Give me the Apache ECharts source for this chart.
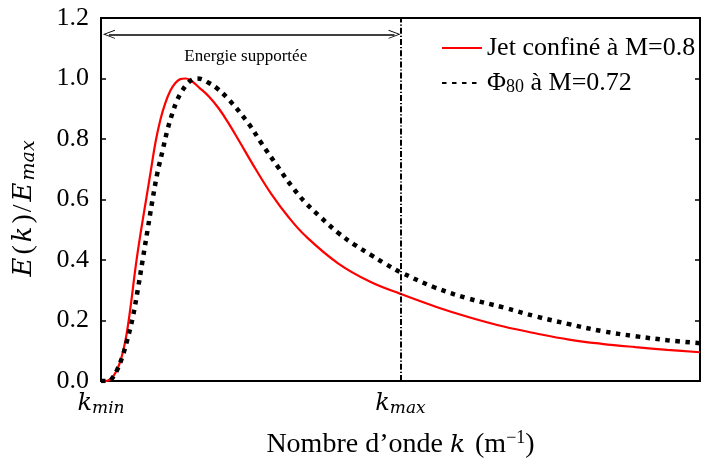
<!DOCTYPE html>
<html>
<head>
<meta charset="utf-8">
<script src="https://cdn.jsdelivr.net/npm/echarts@6/dist/echarts.min.js"></script>
<style>
  html, body { margin: 0; padding: 0; background: #fff; }
  #chart { width: 703px; height: 464px; }
</style>
</head>
<body>
<div id="chart"></div>
<script>
// wavenumber axis in arbitrary units: k_min = 0, k_max = 302
const kMin = 0
const kMax = 302
const kEnd = 604

// jet confiné à M=0.8
const kJet = [0, 5, 10, 15, 20, 25, 30, 35, 40, 45, 50, 55, 60, 65, 70, 75, 80, 85, 90, 99,
  109, 119, 129, 139, 156, 172, 189, 206, 239, 272, 302, 339, 372, 406, 439, 472, 505, 539, 571, 604]
const eJet = [0, 0, 0.007, 0.03, 0.07, 0.14, 0.25, 0.38, 0.49, 0.59, 0.69, 0.79, 0.865, 0.92, 0.96, 0.985, 0.998, 1.0, 0.995, 0.97,
  0.94, 0.9, 0.85, 0.795, 0.7, 0.617, 0.542, 0.48, 0.389, 0.327, 0.288, 0.244, 0.21, 0.18, 0.157, 0.137, 0.123, 0.112, 0.103, 0.095]

// Phi_80 à M=0.72
const kPhi = [0, 7, 11, 16, 21, 26, 32, 37, 42, 47, 52, 57, 62, 67, 72, 77, 82, 87, 92, 97,
  103, 109, 116, 129, 149, 162, 179, 192, 206, 222, 239, 255, 272, 287, 302, 336, 369, 406, 439, 472, 505, 539, 571, 604]
const ePhi = [0, 0, 0.008, 0.035, 0.075, 0.13, 0.21, 0.3, 0.4, 0.5, 0.6, 0.69, 0.76, 0.83, 0.885, 0.93, 0.96, 0.983, 0.996, 1.0,
  0.996, 0.985, 0.97, 0.93, 0.85, 0.785, 0.705, 0.645, 0.59, 0.54, 0.49, 0.452, 0.417, 0.387, 0.36, 0.31, 0.274, 0.243, 0.213, 0.188, 0.165, 0.148, 0.135, 0.125]

const yTicks = [0, 0.2, 0.4, 0.6, 0.8, 1.0, 1.2]
const arrowY = 1.146

const serif = '"Liberation Serif", "DejaVu Serif", serif'
const mathFont = '"DejaVu Serif", serif'

const chart = echarts.init(document.getElementById('chart'))

const zip = (xs, ys) => xs.map((x, i) => [x, ys[i]])

const chevron = 'path://M0,10 L5,0 L10,10 L9,10 L5,2 L1,10 Z'

const option = {
  animation: false,
  backgroundColor: '#fff',
  grid: {
    left: 101,
    width: 604,
    top: 18,
    bottom: 83,
    show: true,
    borderColor: '#000',
    borderWidth: 2
  },
  legend: {
    orient: 'vertical',
    left: 436,
    top: 30,
    itemWidth: 40,
    itemHeight: 14,
    itemGap: 9,
    itemStyle: { opacity: 0 },
    textStyle: {
      fontFamily: serif,
      fontSize: 26,
      color: '#000',
      rich: {
        n: { fontFamily: serif, fontSize: 26, color: '#000', lineHeight: 27 },
        s: { fontFamily: serif, fontSize: 18, color: '#000', lineHeight: 14, verticalAlign: 'bottom' }
      }
    },
    formatter: function (name) {
      if (name.indexOf('Φ') === 0) return '{n|Φ}{s|80}{n| à M=0.72}'
      return '{n|' + name + '}'
    }
  },
  xAxis: {
    type: 'value',
    min: kMin,
    max: kEnd,
    interval: kMax,
    name: '{n|Nombre d’onde }{i|k}{n| (m}{sup|−1}{n|)}',
    nameLocation: 'middle',
    nameGap: 48,
    nameTextStyle: {
      rich: {
        n: { fontFamily: serif, fontSize: 28, color: '#000', lineHeight: 32 },
        i: { fontFamily: mathFont, fontSize: 25, fontStyle: 'italic', color: '#000', lineHeight: 32, padding: [0, 3, 0, 0] },
        sup: { fontFamily: serif, fontSize: 18, color: '#000', lineHeight: 18, verticalAlign: 'top' }
      }
    },
    axisLine: { lineStyle: { color: '#000', width: 2 } },
    axisTick: { show: true, inside: true, length: 5, lineStyle: { color: '#000', width: 1.5 } },
    splitLine: { show: false },
    axisLabel: {
      margin: 10,
      formatter: function (v) {
        if (v === kMin) return '{k|k}{s|min}'
        if (v === kMax) return '{k|k}{s|max}'
        return ''
      },
      rich: {
        k: { fontFamily: mathFont, fontSize: 24, fontStyle: 'italic', color: '#000', lineHeight: 26 },
        s: { fontFamily: mathFont, fontSize: 17, fontStyle: 'italic', color: '#000', lineHeight: 14, verticalAlign: 'bottom' }
      }
    }
  },
  yAxis: [
    {
      type: 'value',
      min: yTicks[0],
      max: yTicks[yTicks.length - 1],
      interval: 0.2,
      name: '{i|E}{n|(}{i|k}{n|)}{n|/}{i|E}{s|max}',
      nameLocation: 'middle',
      nameGap: 62,
      nameTextStyle: {
        padding: [0, 20, 0, 0],
        rich: {
          n: { fontFamily: serif, fontSize: 28, color: '#000', lineHeight: 30, padding: [0, 1, 0, 1] },
          i: { fontFamily: mathFont, fontSize: 26, fontStyle: 'italic', color: '#000', lineHeight: 30, padding: [0, 2, 0, 2] },
          s: { fontFamily: mathFont, fontSize: 19, fontStyle: 'italic', color: '#000', lineHeight: 15, verticalAlign: 'bottom' }
        }
      },
      axisLine: { show: true, lineStyle: { color: '#000', width: 2 } },
      axisTick: { show: true, inside: true, length: 5, lineStyle: { color: '#000', width: 1.5 } },
      splitLine: { show: false },
      axisLabel: {
        margin: 12,
        fontFamily: serif,
        fontSize: 26,
        color: '#000',
        formatter: v => v.toFixed(1)
      }
    },
    {
      type: 'value',
      position: 'right',
      min: yTicks[0],
      max: yTicks[yTicks.length - 1],
      interval: 0.2,
      axisLine: { show: true, lineStyle: { color: '#000', width: 2 } },
      axisTick: { show: true, inside: true, length: 5, lineStyle: { color: '#000', width: 1.5 } },
      axisLabel: { show: false },
      splitLine: { show: false }
    }
  ],
  series: [
    {
      name: 'Jet confiné à M=0.8',
      type: 'line',
      smooth: 0.4,
      showSymbol: false,
      symbol: 'none',
      data: zip(kJet, eJet),
      lineStyle: { color: '#ff0000', width: 2.2 },
      itemStyle: { color: '#ff0000' },
      markLine: {
        silent: true,
        symbol: 'none',
        label: { show: false },
        lineStyle: { color: '#000', width: 2, type: [6, 2, 1.2, 2] },
        data: [{ xAxis: kMax }]
      }
    },
    {
      name: 'Φ80 à M=0.72',
      type: 'line',
      smooth: 0.4,
      showSymbol: false,
      symbol: 'none',
      data: zip(kPhi, ePhi),
      lineStyle: { color: '#000', width: 4.5, type: [4.5, 5.5], cap: 'butt' },
      itemStyle: { color: '#000' },
      markLine: {
        silent: true,
        symbol: [chevron, chevron],
        symbolSize: [9, 12],
        lineStyle: { color: '#000', width: 1.5, type: 'solid' },
        label: {
          show: true,
          position: 'insideMiddleBottom',
          distance: 14,
          padding: [0, 12, 0, 0],
          formatter: 'Energie supportée',
          fontFamily: serif,
          fontSize: 17,
          color: '#000'
        },
        data: [[{ coord: [8, arrowY] }, { coord: [296, arrowY] }]]
      }
    }
  ]
}

chart.setOption(option)
</script>
</body>
</html>
